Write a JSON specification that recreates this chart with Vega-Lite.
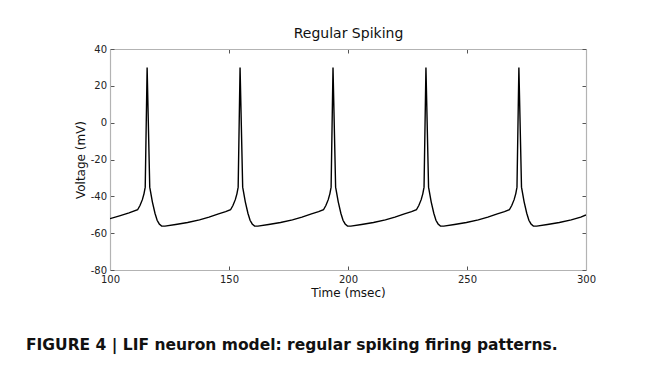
{
  "$schema": "https://vega.github.io/schema/vega-lite/v6.json",
  "width": 476,
  "height": 221,
  "autosize": {"type": "none"},
  "padding": {"left": 110, "top": 49, "right": 71, "bottom": 103},
  "background": "white",
  "title": {
    "text": "FIGURE 4 | LIF neuron model: regular spiking firing patterns.",
    "orient": "bottom",
    "anchor": "start",
    "frame": "group",
    "dx": -84,
    "offset": 40,
    "font": "DejaVu Sans",
    "fontWeight": "bold",
    "fontSize": 15.5,
    "color": "#111"
  },
  "config": {
    "view": {"stroke": null},
    "font": "DejaVu Sans",
    "axis": {
      "grid": false,
      "domainColor": "#b3b3b3",
      "domainWidth": 1.2,
      "tickColor": "#555",
      "tickSize": -4,
      "labelFont": "DejaVu Sans",
      "labelFontSize": 10,
      "labelColor": "#222",
      "titleFont": "DejaVu Sans",
      "titleFontSize": 12,
      "titleFontWeight": "normal",
      "titleColor": "#111"
    }
  },
  "data": {
    "values": [
      {"t": 100, "v": -52.1}, {"t": 104, "v": -50.6}, {"t": 108, "v": -49.0},
      {"t": 111.6, "v": -47.3}, {"t": 112.6, "v": -45.0}, {"t": 113.6, "v": -41.8}, {"t": 114.3, "v": -38.5}, {"t": 114.8, "v": -35.0},
      {"t": 115.6, "v": 30}, {"t": 116.7, "v": -35.0}, {"t": 117.8, "v": -43.0}, {"t": 118.9, "v": -49.2}, {"t": 119.8, "v": -53.0},
      {"t": 120.7, "v": -55.0}, {"t": 121.7, "v": -56.1}, {"t": 123.1, "v": -56.2}, {"t": 127.6, "v": -55.3}, {"t": 132.6, "v": -54.2},
      {"t": 137.6, "v": -52.8}, {"t": 141.6, "v": -51.3}, {"t": 145.6, "v": -49.5}, {"t": 148.6, "v": -48.3},
      {"t": 150.65, "v": -47.3}, {"t": 151.65, "v": -45.0}, {"t": 152.65, "v": -41.8}, {"t": 153.35, "v": -38.5}, {"t": 153.85, "v": -35.0},
      {"t": 154.65, "v": 30}, {"t": 155.75, "v": -35.0}, {"t": 156.85, "v": -43.0}, {"t": 157.95, "v": -49.2}, {"t": 158.85, "v": -53.0},
      {"t": 159.75, "v": -55.0}, {"t": 160.75, "v": -56.1}, {"t": 162.15, "v": -56.2}, {"t": 166.65, "v": -55.3}, {"t": 171.65, "v": -54.2},
      {"t": 176.65, "v": -52.8}, {"t": 180.65, "v": -51.3}, {"t": 184.65, "v": -49.5}, {"t": 187.65, "v": -48.3},
      {"t": 189.7, "v": -47.3}, {"t": 190.7, "v": -45.0}, {"t": 191.7, "v": -41.8}, {"t": 192.4, "v": -38.5}, {"t": 192.9, "v": -35.0},
      {"t": 193.7, "v": 30}, {"t": 194.8, "v": -35.0}, {"t": 195.9, "v": -43.0}, {"t": 197.0, "v": -49.2}, {"t": 197.9, "v": -53.0},
      {"t": 198.8, "v": -55.0}, {"t": 199.8, "v": -56.1}, {"t": 201.2, "v": -56.2}, {"t": 205.7, "v": -55.3}, {"t": 210.7, "v": -54.2},
      {"t": 215.7, "v": -52.8}, {"t": 219.7, "v": -51.3}, {"t": 223.7, "v": -49.5}, {"t": 226.7, "v": -48.3},
      {"t": 228.75, "v": -47.3}, {"t": 229.75, "v": -45.0}, {"t": 230.75, "v": -41.8}, {"t": 231.45, "v": -38.5}, {"t": 231.95, "v": -35.0},
      {"t": 232.75, "v": 30}, {"t": 233.85, "v": -35.0}, {"t": 234.95, "v": -43.0}, {"t": 236.05, "v": -49.2}, {"t": 236.95, "v": -53.0},
      {"t": 237.85, "v": -55.0}, {"t": 238.85, "v": -56.1}, {"t": 240.25, "v": -56.2}, {"t": 244.75, "v": -55.3}, {"t": 249.75, "v": -54.2},
      {"t": 254.75, "v": -52.8}, {"t": 258.75, "v": -51.3}, {"t": 262.75, "v": -49.5}, {"t": 265.75, "v": -48.3},
      {"t": 267.8, "v": -47.3}, {"t": 268.8, "v": -45.0}, {"t": 269.8, "v": -41.8}, {"t": 270.5, "v": -38.5}, {"t": 271.0, "v": -35.0},
      {"t": 271.8, "v": 30}, {"t": 272.9, "v": -35.0}, {"t": 274.0, "v": -43.0}, {"t": 275.1, "v": -49.2}, {"t": 276.0, "v": -53.0},
      {"t": 276.9, "v": -55.0}, {"t": 277.9, "v": -56.1}, {"t": 279.3, "v": -56.2}, {"t": 283.8, "v": -55.3}, {"t": 288.8, "v": -54.2},
      {"t": 293.8, "v": -52.8}, {"t": 297.8, "v": -51.3}, {"t": 300, "v": -50.1}
    ]
  },
  "resolve": {"axis": {"x": "independent", "y": "independent"}},
  "layer": [
    {
      "mark": {"type": "line", "color": "black", "strokeWidth": 1.4, "clip": true},
      "encoding": {
        "x": {
          "field": "t", "type": "quantitative",
          "scale": {"domain": [100, 300], "nice": false, "zero": false},
          "axis": {"orient": "bottom", "title": "Time (msec)", "values": [100, 150, 200, 250, 300], "labelPadding": 8, "titlePadding": 3, "labelFlush": false}
        },
        "y": {
          "field": "v", "type": "quantitative",
          "scale": {"domain": [-80, 40], "nice": false, "zero": false},
          "axis": {"orient": "left", "title": "Voltage (mV)", "values": [-80, -60, -40, -20, 0, 20, 40], "labelExpr": "'' + datum.value", "labelPadding": 7.5, "titlePadding": 3, "labelFlush": false}
        }
      }
    },
    {
      "mark": {"type": "line", "opacity": 0},
      "encoding": {
        "x": {
          "field": "t", "type": "quantitative",
          "axis": {"orient": "top", "title": "Regular Spiking", "titleFontSize": 14, "titlePadding": 8, "labels": false, "values": [100, 150, 200, 250, 300]}
        },
        "y": {
          "field": "v", "type": "quantitative",
          "axis": {"orient": "right", "title": null, "labels": false, "values": [-80, -60, -40, -20, 0, 20, 40]}
        }
      }
    }
  ]
}
